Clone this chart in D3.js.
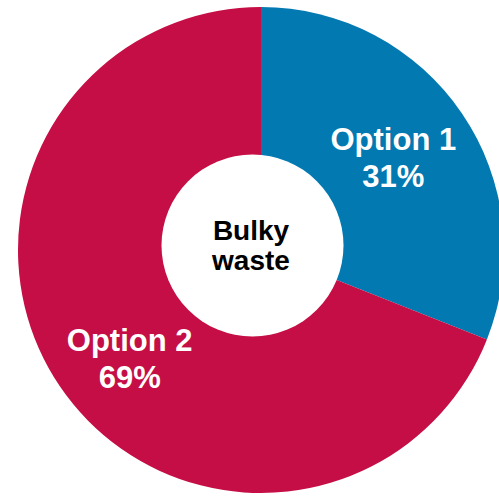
<!DOCTYPE html>
<html>
<head>
<meta charset="utf-8">
<script src="https://cdn.jsdelivr.net/npm/d3@7"></script>
<style>
  html, body { margin: 0; padding: 0; background: #fff; overflow: hidden; }
  svg { display: block; }
</style>
</head>
<body>
<svg id="chart"></svg>
<script>
// data
const categories = ["Option 1", "Option 2"];
const shares = [31, 69];
const colors = ["#0279b1", "#c40e45"];
const centerLines = ["Bulky", "waste"];

const width = 499, height = 497;
const cx = 261, cy = 250;
const outerR = 243;

const svg = d3.select("#chart")
    .attr("width", width)
    .attr("height", height);

const data = categories.map((c, i) => ({label: c, value: shares[i], color: colors[i]}));

const pie = d3.pie()
    .value(d => d.value)
    .sort(null);

const arc = d3.arc()
    .innerRadius(0)
    .outerRadius(outerR);

const labelArc = d3.arc()
    .innerRadius(160)
    .outerRadius(160);

const g = svg.append("g")
    .attr("transform", `translate(${cx}, ${cy})`);

const arcs = pie(data);

g.selectAll("path")
    .data(arcs)
    .enter()
    .append("path")
    .attr("d", arc)
    .attr("fill", d => d.data.color);

// white hole, sits a little up-left of the pie centre in the original
svg.append("circle")
    .attr("cx", 252.5)
    .attr("cy", 245.5)
    .attr("r", 91)
    .attr("fill", "#fff");

const font = "'Liberation Sans', Arial, Helvetica, sans-serif";
const labelNudge = [[0, -2], [1, 19]];

const labels = g.selectAll("text.slice")
    .data(arcs)
    .enter()
    .append("text")
    .attr("class", "slice")
    .attr("transform", (d, i) => {
        const c = labelArc.centroid(d);
        return `translate(${c[0] + labelNudge[i][0]}, ${c[1] + labelNudge[i][1]})`;
    })
    .attr("text-anchor", "middle")
    .attr("fill", "#fff")
    .attr("font-family", font)
    .attr("font-weight", "bold")
    .attr("font-size", 31);

labels.append("tspan")
    .attr("x", 0)
    .attr("y", -8)
    .text(d => d.data.label);

labels.append("tspan")
    .attr("x", 0)
    .attr("y", 29)
    .text(d => d.data.value + "%");

svg.append("text")
    .attr("x", 252)
    .attr("text-anchor", "middle")
    .attr("fill", "#000")
    .attr("font-family", font)
    .attr("font-weight", "bold")
    .attr("font-size", 28)
    .selectAll("tspan")
    .data(centerLines)
    .enter()
    .append("tspan")
    .attr("x", 251)
    .attr("y", (d, i) => 240 + i * 30)
    .text(d => d);
</script>
</body>
</html>
